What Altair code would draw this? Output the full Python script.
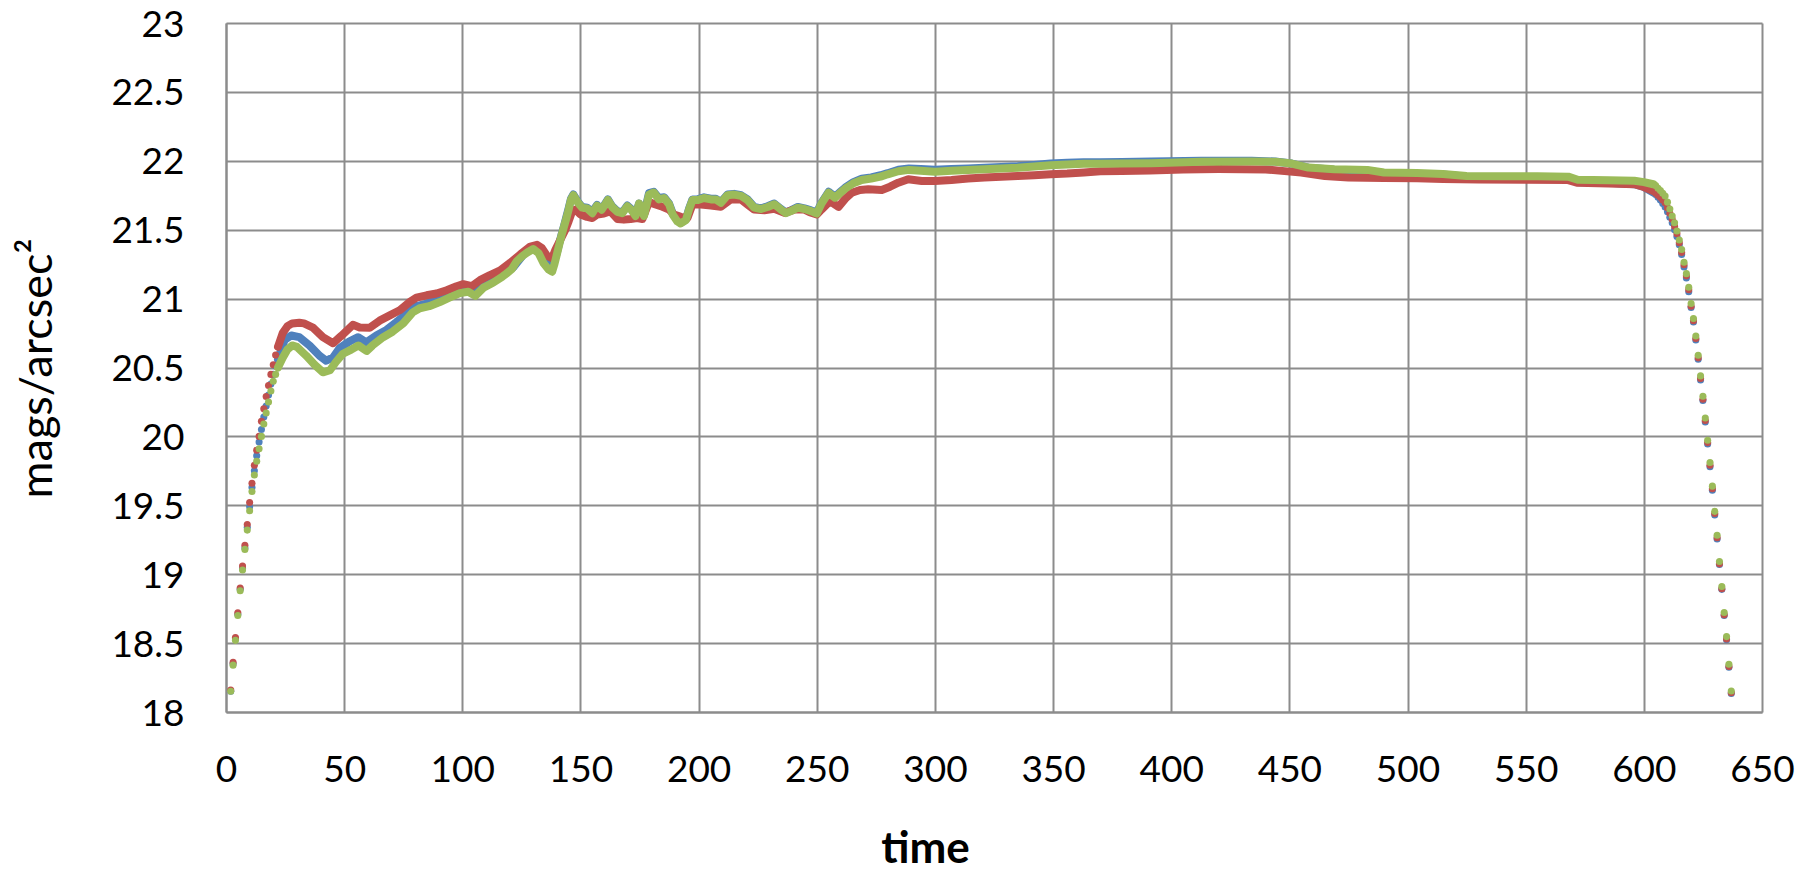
import altair as alt
import pandas as pd

# ---------------- data ----------------
RISE_T = list(range(2, 23))
BLUE_RISE = [18.15, 18.35, 18.53, 18.71, 18.89, 19.04, 19.19, 19.34, 19.49, 19.63, 19.75,
             19.86, 19.96, 20.05, 20.14, 20.22, 20.30, 20.38, 20.45, 20.51, 20.56]
RED_RISE = [18.16, 18.36, 18.54, 18.72, 18.90, 19.06, 19.21, 19.36, 19.52, 19.66, 19.79,
            19.90, 20.00, 20.11, 20.20, 20.29, 20.37, 20.45, 20.52, 20.59, 20.65]
GREEN_RISE = [18.15, 18.34, 18.52, 18.70, 18.88, 19.03, 19.18, 19.32, 19.46, 19.60, 19.72,
              19.82, 19.91, 20.00, 20.09, 20.17, 20.25, 20.33, 20.40, 20.45, 20.50]

FALL_T = list(range(605, 638))
BLUE_FALL = [21.755, 21.735, 21.715, 21.69, 21.665, 21.63, 21.59, 21.55, 21.50, 21.45, 21.39,
             21.32, 21.23, 21.15, 21.05, 20.935, 20.83, 20.70, 20.56, 20.41, 20.26, 20.105,
             19.945, 19.78, 19.61, 19.43, 19.255, 19.07, 18.89, 18.70, 18.525, 18.325, 18.135]
RED_FALL = [21.765, 21.75, 21.735, 21.715, 21.695, 21.66, 21.62, 21.575, 21.525, 21.47, 21.405,
            21.335, 21.245, 21.165, 21.065, 20.945, 20.84, 20.71, 20.57, 20.42, 20.27, 20.115,
            19.955, 19.79, 19.62, 19.44, 19.265, 19.075, 18.895, 18.705, 18.53, 18.33, 18.14]
GREEN_FALL = [21.82, 21.80, 21.785, 21.765, 21.745, 21.70, 21.65, 21.60, 21.55, 21.49, 21.425,
              21.356, 21.264, 21.181, 21.083, 20.964, 20.856, 20.728, 20.589, 20.439, 20.292,
              20.133, 19.972, 19.811, 19.639, 19.456, 19.283, 19.092, 18.911, 18.722, 18.547,
              18.347, 18.153]

GREEN_BAND_T = [22, 24, 26, 28, 30, 34, 37.5, 41, 44, 46.5, 49.5, 53, 56, 59.5, 62, 66.5, 70.5,
                75, 79, 82, 86, 90.5, 95, 99, 102.5, 105.5, 109, 113, 117, 119, 121, 123, 125.5,
                127.5, 130, 132.3, 134.4, 136.6, 138, 139, 140, 141, 142, 143, 144, 145, 146, 147,
                149, 150.7, 152.8, 155, 157, 159, 161.6, 163.4, 165.6, 167.7, 169.8, 171.5, 173.3,
                174.8, 176.9, 179, 181, 183.2, 185.4, 187.5, 189, 191, 192.4, 194.6, 196, 197.4,
                199.5, 202.3, 205.2, 207.3, 209.4, 212.2, 215, 218, 220.7, 223.5, 226.4, 229.2,
                232, 234.9, 237, 239, 242, 244.8, 247.6, 250, 252, 255, 257.7, 260, 262, 265.5,
                269, 273, 277, 280, 284.5, 289, 294, 300, 307, 314, 321, 328, 335, 342, 349, 356,
                363, 370, 379, 391.5, 412.7, 434, 444, 451, 458, 469, 483, 490, 504, 515, 525,
                540, 555, 568, 572, 585, 596, 600, 604]
GREEN_BAND_V = [20.50, 20.57, 20.63, 20.66, 20.65, 20.585, 20.52, 20.465, 20.48, 20.54, 20.60,
                20.63, 20.66, 20.62, 20.66, 20.72, 20.76, 20.82, 20.90, 20.93, 20.945, 20.975,
                21.01, 21.04, 21.05, 21.02, 21.08, 21.115, 21.16, 21.185, 21.215, 21.27, 21.31,
                21.335, 21.36, 21.33, 21.256, 21.21, 21.195, 21.25, 21.32, 21.39, 21.46, 21.52,
                21.58, 21.645, 21.72, 21.75, 21.695, 21.66, 21.655, 21.62, 21.675, 21.645,
                21.715, 21.665, 21.63, 21.62, 21.67, 21.645, 21.60, 21.69, 21.60, 21.755, 21.77,
                21.72, 21.73, 21.685, 21.61, 21.56, 21.545, 21.57, 21.65, 21.715, 21.715, 21.73,
                21.72, 21.72, 21.695, 21.75, 21.755, 21.745, 21.715, 21.66, 21.65, 21.665,
                21.685, 21.645, 21.62, 21.635, 21.66, 21.65, 21.635, 21.617, 21.69, 21.768,
                21.732, 21.768, 21.798, 21.837, 21.861, 21.871, 21.885, 21.902, 21.924, 21.934,
                21.927, 21.92, 21.927, 21.934, 21.939, 21.944, 21.949, 21.959, 21.968, 21.973,
                21.978, 21.978, 21.98, 21.983, 21.993, 21.995, 21.993, 21.98, 21.951, 21.939,
                21.934, 21.915, 21.912, 21.905, 21.89, 21.888, 21.887, 21.885, 21.862, 21.858,
                21.855, 21.845, 21.83]

BLUE_BAND_T = [22, 24.8, 27.6, 31, 35.4, 39.6, 42.4, 45.3, 48.1, 52.3, 55.9, 59.4, 63.6, 67.9,
               72.1, 76.4, 80.6, 84.9, 89.1, 93.4, 97.6, 101.8, 105.4, 108.9, 113.2, 117.4,
               121.6, 125.9, 128, 130.5, 133, 135, 137, 138.5, 140, 141, 142, 143, 144, 145,
               146, 147, 149, 150.7, 152.8, 155, 157, 159, 161.6, 163.4, 165.6, 167.7, 169.8,
               171.5, 173.3, 174.8, 176.9, 179, 181, 183.2, 185.4, 187.5, 189, 191, 192.4,
               194.6, 196, 197.4, 199.5, 202.3, 205.2, 207.3, 209.4, 212.2, 215, 218, 220.7,
               223.5, 226.4, 229.2, 232, 234.9, 237, 239, 242, 244.8, 247.6, 250, 252, 255,
               257.7, 260, 262, 265.5, 269, 273, 277, 280, 284.5, 289, 294, 300, 307, 314, 321,
               328, 335, 342, 349, 356, 363, 370, 379, 391.5, 412.7, 434, 444, 451, 458, 469,
               483, 490, 504, 515, 525, 540, 555, 568, 572, 585, 596, 600, 604]
BLUE_BAND_V = [20.56, 20.70, 20.732, 20.72, 20.659, 20.585, 20.549, 20.573, 20.641, 20.69, 20.72,
               20.683, 20.732, 20.773, 20.829, 20.89, 20.946, 20.963, 20.993, 21.024, 21.061,
               21.085, 21.061, 21.11, 21.146, 21.183, 21.227, 21.32, 21.36, 21.375, 21.35, 21.28,
               21.235, 21.25, 21.33, 21.40, 21.465, 21.525, 21.59, 21.655, 21.725, 21.755,
               21.70, 21.665, 21.66, 21.63, 21.68, 21.65, 21.72, 21.67, 21.635, 21.625, 21.675,
               21.65, 21.61, 21.69, 21.61, 21.765, 21.775, 21.73, 21.735, 21.69, 21.62, 21.57,
               21.55, 21.575, 21.655, 21.72, 21.72, 21.735, 21.725, 21.725, 21.70, 21.755, 21.76,
               21.75, 21.72, 21.665, 21.655, 21.67, 21.69, 21.65, 21.625, 21.64, 21.665, 21.655,
               21.64, 21.625, 21.695, 21.775, 21.74, 21.775, 21.805, 21.845, 21.87, 21.88,
               21.895, 21.91, 21.935, 21.945, 21.94, 21.935, 21.94, 21.945, 21.95, 21.955,
               21.96, 21.97, 21.98, 21.985, 21.99, 21.99, 21.992, 21.995, 22.0, 22.0, 21.995,
               21.98, 21.95, 21.935, 21.928, 21.91, 21.905, 21.9, 21.885, 21.882, 21.88, 21.875,
               21.845, 21.84, 21.83, 21.81, 21.77]

RED_BAND_T = [22, 24, 26, 28, 31, 33, 36.8, 41, 45.3, 48.8, 53.7, 56.6, 60.8, 65, 69.3, 73.5,
              77.8, 80.6, 84.9, 89.1, 93.4, 97.6, 100.4, 104, 107.5, 111.7, 116, 120.3, 124.5,
              128.8, 131.6, 133.7, 135.9, 138, 139.4, 141.5, 143.6, 145, 146.5, 147.9, 150,
              152.8, 155, 157.1, 159.9, 162.7, 165.6, 168.4, 171.2, 174, 176.2, 179, 181.8,
              184.7, 187.5, 189.6, 192.4, 195.3, 197.4, 201, 205.2, 209.4, 213.7, 217.9, 220.7,
              223.5, 227.8, 232, 236.3, 240.5, 244.8, 247, 250, 252, 255.6, 259.2, 262, 264.8,
              268.3, 271.8, 277.5, 281, 284.5, 288.7, 294.4, 300, 307, 314, 321, 328, 335, 342,
              349, 356, 363, 370, 379, 391, 405, 420, 440, 448, 455, 465, 475, 490, 504, 515,
              530, 550, 568, 572, 585, 596, 600, 604]
RED_BAND_V = [20.65, 20.75, 20.80, 20.82, 20.825, 20.82, 20.79, 20.72, 20.676, 20.73, 20.81,
              20.79, 20.788, 20.84, 20.878, 20.915, 20.976, 21.007, 21.024, 21.037, 21.061,
              21.09, 21.105, 21.09, 21.134, 21.171, 21.204, 21.26, 21.32, 21.378, 21.39, 21.366,
              21.31, 21.293, 21.354, 21.427, 21.50, 21.561, 21.634, 21.646, 21.61, 21.593,
              21.585, 21.61, 21.617, 21.634, 21.578, 21.573, 21.578, 21.585, 21.578, 21.70,
              21.683, 21.666, 21.646, 21.61, 21.593, 21.585, 21.683, 21.683, 21.676, 21.666,
              21.72, 21.72, 21.683, 21.646, 21.641, 21.651, 21.622, 21.646, 21.646, 21.627,
              21.61, 21.646, 21.707, 21.666, 21.724, 21.768, 21.788, 21.793, 21.788, 21.812,
              21.841, 21.866, 21.854, 21.854, 21.861, 21.871, 21.878, 21.885, 21.89, 21.895,
              21.902, 21.907, 21.915, 21.924, 21.926, 21.93, 21.937, 21.94, 21.937, 21.925,
              21.915, 21.89, 21.878, 21.875, 21.873, 21.868, 21.865, 21.862, 21.86, 21.84,
              21.835, 21.83, 21.81, 21.78]

X_TICKS = list(range(0, 651, 50))
Y_TICKS = [18, 18.5, 19, 19.5, 20, 20.5, 21, 21.5, 22, 22.5, 23]

SERIES = [
    ("blue", "#4F81BD", BLUE_RISE, BLUE_BAND_T, BLUE_BAND_V, BLUE_FALL),
    ("red", "#C0504D", RED_RISE, RED_BAND_T, RED_BAND_V, RED_FALL),
    ("green", "#9BBB59", GREEN_RISE, GREEN_BAND_T, GREEN_BAND_V, GREEN_FALL),
]

# ---------------- chart ----------------
GRID = "#8c8c8c"
FONT = "Lato"

x_enc = alt.X(
    "t:Q",
    scale=alt.Scale(domain=[0, 650], nice=False, zero=False),
    axis=alt.Axis(
        values=X_TICKS, format="d", title="time", grid=True, ticks=False,
        labelFlush=False, labelOverlap=False, labelPadding=40,
        titleFontWeight="bold", titleFontSize=44, titleX=699, titleY=150,
        titleBaseline="alphabetic", titleAlign="center",
    ),
)
y_enc = alt.Y(
    "v:Q",
    scale=alt.Scale(domain=[18, 23], nice=False, zero=False),
    axis=alt.Axis(
        values=Y_TICKS, format=".1~f", title="mags/arcsec²", grid=True, ticks=False,
        labelFlush=False, labelOverlap=False, labelPadding=42, labelOffset=2,
        titleFontWeight="normal", titleFontSize=45, titleAngle=270,
        titleX=-175, titleY=345, titleBaseline="alphabetic", titleAlign="center",
    ),
)

layers = []
for name, color, rise, band_t, band_v, fall in SERIES:
    band_df = pd.DataFrame({"t": band_t, "v": band_v})
    dots_df = pd.DataFrame({"t": RISE_T + FALL_T, "v": rise + fall})
    layers.append(
        alt.Chart(band_df).mark_line(
            color=color, strokeWidth=8, strokeCap="round", strokeJoin="round"
        ).encode(x=x_enc, y=y_enc)
    )
    layers.append(
        alt.Chart(dots_df).mark_circle(color=color, size=50, opacity=1).encode(x=x_enc, y=y_enc)
    )

chart = (
    alt.layer(*layers)
    .properties(
        width=1536,
        height=689,
        padding={"left": 226, "top": 23, "right": 50, "bottom": 160},
        autosize=alt.AutoSizeParams(type="none"),
        background="white",
    )
    .configure_view(stroke=None)
    .configure_axis(
        gridColor=GRID, gridWidth=2, gridOpacity=1,
        domainColor=GRID, domainWidth=2,
        labelFont=FONT, labelFontSize=37, labelColor="black",
        titleFont=FONT, titleColor="black",
    )
)

chart.save("out.html", embed_options={"renderer": "svg", "actions": False})
